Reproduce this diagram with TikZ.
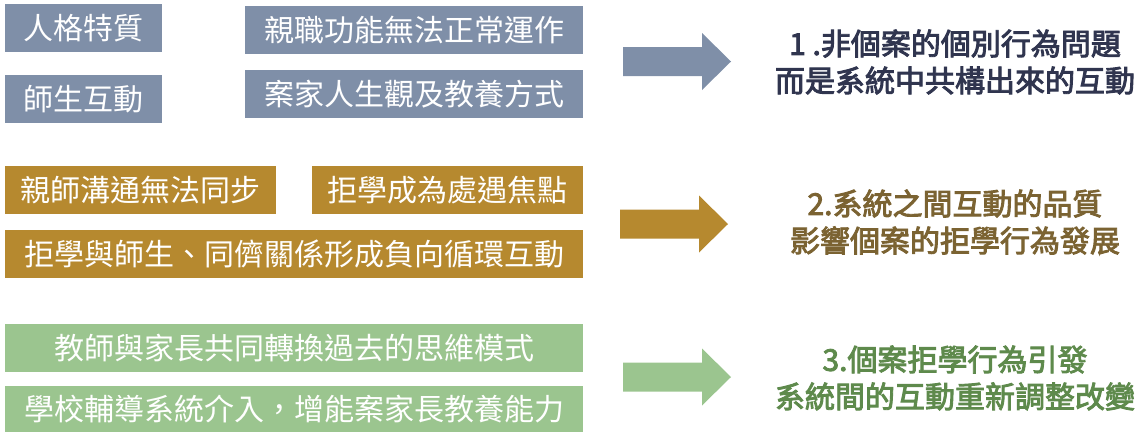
\documentclass[tikz,border=0pt]{standalone}
\usepackage{fontspec}
\newfontfamily\cjk{Noto Sans CJK TC}
\newcommand\medtxt[1]{\special{pdf:code q 2 Tr 0.9 w}#1\special{pdf:code Q}}
\definecolor{cBlue}{HTML}{7F8FA8}
\definecolor{cNavy}{HTML}{30354F}
\definecolor{cGold}{HTML}{B6892F}
\definecolor{cBrown}{HTML}{7B6332}
\definecolor{cGreen}{HTML}{9BC58F}
\definecolor{cDGreen}{HTML}{5E8A4C}
\tikzset{
  boxbase/.style={rectangle, inner sep=0pt, text=white, minimum height=48pt,
    font=\cjk\fontsize{30}{30}\selectfont},
  bluebox/.style={boxbase, fill=cBlue},
  goldbox/.style={boxbase, fill=cGold},
  greenbox/.style={boxbase, fill=cGreen},
  result/.style={align=center, inner sep=0pt, font=\cjk\fontsize{30}{37}\selectfont},
  pics/blockarrow/.style={code={
    \fill[#1] (0,-14.5) -- (79,-14.5) -- (79,-28.5) -- (108,0) -- (79,28.5) -- (79,14.5) -- (0,14.5) -- cycle;
  }}
}
\begin{document}
\begin{tikzpicture}[x=1pt,y=-1pt]
\useasboundingbox (0,0) rectangle (1142,432);
% row 1
\node[bluebox, minimum width=157pt] (a1) at (83.5,28) {人格特質};
\node[bluebox, minimum width=157pt] (a2) at (83.5,99) {師生互動};
\node[bluebox, minimum width=338pt] (a3) at (414,30) {親職功能無法正常運作};
\node[bluebox, minimum width=338pt] (a4) at (414,94) {案家人生觀及教養方式};
\pic (ar1) at (623,61.5) {blockarrow=cBlue};
\node[result, text=cNavy] (t1) at (955,62) {\medtxt{1 .非個案的個別行為問題}\\\medtxt{而是系統中共構出來的互動}};
% row 2
\node[goldbox, minimum width=271pt] (b1) at (140.5,190) {親師溝通無法同步};
\node[goldbox, minimum width=271pt] (b2) at (447.5,190) {拒學成為處遇焦點};
\node[goldbox, minimum width=578pt] (b3) at (294,254) {拒學與師生、同儕關係形成負向循環互動};
\pic (ar2) at (620,224) {blockarrow=cGold};
\node[result, text=cBrown] (t2) at (955,222) {\medtxt{2.系統之間互動的品質}\\\medtxt{影響個案的拒學行為發展}};
% row 3
\node[greenbox, minimum width=578pt] (c1) at (294,348) {教師與家長共同轉換過去的思維模式};
\node[greenbox, minimum width=578pt, minimum height=46pt] (c2) at (294,409) {學校輔導系統介入，增能案家長教養能力};
\pic (ar3) at (623,377) {blockarrow=cGreen};
\node[result, text=cDGreen] (t3) at (955,378) {\medtxt{3.個案拒學行為引發}\\\medtxt{系統間的互動重新調整改變}};
\end{tikzpicture}
\end{document}
